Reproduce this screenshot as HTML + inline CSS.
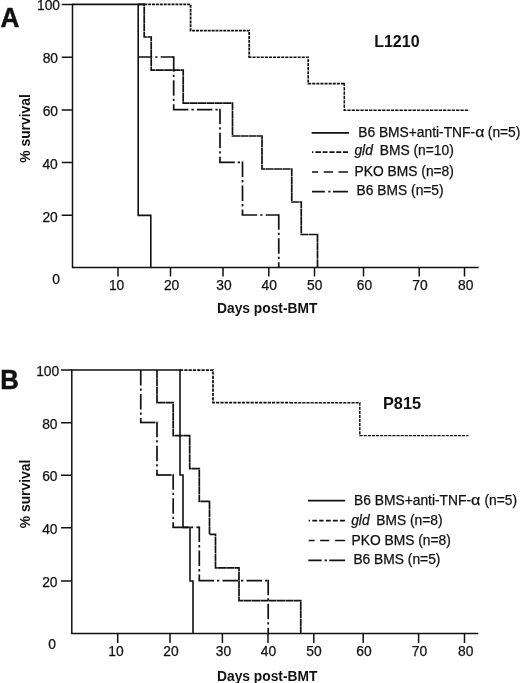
<!DOCTYPE html>
<html>
<head>
<meta charset="utf-8">
<title>Survival curves</title>
<style>
html,body{margin:0;padding:0;background:#fff;}
body{width:520px;height:683px;overflow:hidden;font-family:"Liberation Sans",sans-serif;}
svg{display:block;filter:grayscale(1);}
text{font-family:"Liberation Sans",sans-serif;fill:#111;}
.t{font-size:13.8px;stroke:#111;stroke-width:0.25px;}
.b{font-size:13.8px;font-weight:bold;}
.ttl{font-size:16px;font-weight:bold;}
.pl{font-size:26.5px;font-weight:bold;}
.ax{stroke:#111;stroke-width:1.5;fill:none;}
.lg{stroke:#111;stroke-width:1.55;fill:none;}
.sol{stroke:#111;stroke-width:1.6;fill:none;}
.dot{stroke:#111;stroke-width:1.8;fill:none;stroke-dasharray:3 0.9;}
.dotb{stroke:#111;stroke-width:1.65;fill:none;stroke-dasharray:3.2 1.1;}
.pko{stroke:#111;stroke-width:1.7;fill:none;stroke-dasharray:8 0.35;}
.dd{stroke:#111;stroke-width:1.7;fill:none;stroke-dasharray:15.5 3 2.3 3.2;}
</style>
</head>
<body>
<svg width="520" height="683" viewBox="0 0 520 683">
<rect width="520" height="683" fill="#fff"/>

<!-- ================= PANEL A ================= -->
<g id="A">
<text class="pl" style="font-size:27.6px;stroke:#111;stroke-width:0.5px" transform="translate(0.5,27.2) scale(0.95,1)">A</text>
<!-- axes -->
<path class="ax" d="M72.5,3.7 V267.4 H478.6"/>
<path class="ax" d="M61.7,4.4H72.4 M61.7,57.2H72.4 M61.7,109.9H72.4 M61.7,162.6H72.4 M61.7,215.2H72.4"/>
<path class="ax" d="M118,267.2V276.4 M170.5,267.2V276.4 M223,267.2V276.4 M268.8,267.2V276.4 M314.5,267.2V276.4 M363.5,267.2V276.4 M419.2,267.2V276.4 M464.5,267.2V276.4"/>
<!-- y labels -->
<g class="t" text-anchor="end">
<text x="60" y="9.9">100</text>
<text x="58" y="62.8">80</text>
<text x="58" y="116.2">60</text>
<text x="57.8" y="168.7">40</text>
<text x="57.8" y="221.6">20</text>
<text x="60" y="283.5">0</text>
</g>
<!-- x labels -->
<g class="t" text-anchor="middle">
<text x="116.6" y="290">10</text>
<text x="171.6" y="290">20</text>
<text x="224" y="290">30</text>
<text x="269.2" y="290">40</text>
<text x="314.8" y="290">50</text>
<text x="364.5" y="290">60</text>
<text x="420" y="290">70</text>
<text x="465.7" y="290">80</text>
</g>
<text class="b" x="217" y="313.4">Days post-BMT</text>
<text class="b" style="font-size:13.9px" transform="translate(30.4,162.8) rotate(-90)">% survival</text>
<text class="ttl" x="374.2" y="47.2">L1210</text>
<!-- curves -->
<path class="sol" d="M72.4,4.4 H144.2 M138.2,4.4 V215.4 H150.8 V267.4"/>
<path class="pko" d="M138.2,4.3H144.2V37H151.2V70.2H183.2V103.1H232.5V136H262V169H291.75V202H301.25V234.5H317.5V267.2"/>
<path class="dd" stroke-dashoffset="1.5" d="M138.20,57H173.7"/>
<path class="dd" d="M173.7,56.20V109.6"/>
<path class="dd" d="M172.90,109.6H220"/>
<path class="dd" d="M220,108.80V162.4"/>
<path class="dd" d="M219.20,162.4H242.5"/>
<path class="dd" d="M242.5,161.60V215"/>
<path class="dd" d="M241.70,215H278.75"/>
<path class="dd" d="M278.75,214.20V267.2"/>
<path class="dot" d="M144.2,4.4H190.6V30.6H249.2V57.2"/>
<path class="dot" style="stroke-width:1.65;stroke-dasharray:3.1 1" d="M248.4,57.2H308.2V83.6H344.3"/>
<path class="dot" style="stroke-width:1.55;stroke-dasharray:3.3 1.05" d="M344.3,82.8V110.2H468"/>
<!-- legend -->
<path class="lg" style="stroke-width:1.75" d="M311.6,132.8H349"/>
<path class="lg" d="M312,152.1H313.3 M315.4,152.1H320.9 M322.6,152.1H327.5 M329.4,152.1H334.5 M336.3,152.1H341.3 M342.9,152.1H347.9"/>
<path class="lg" d="M312,171.9H318 M323.7,171.9H333 M338.5,171.9H347.9"/>
<path class="lg" style="stroke-width:1.75" d="M312,191.6H324.8 M328.3,191.6H330.5 M333,191.6H347.9"/>
<g class="t">
<text x="358.2" y="136.8">B6 BMS+anti-TNF-</text>
<text x="475.2" y="136.8" style="font-size:14.5px" textLength="9.2" lengthAdjust="spacingAndGlyphs">α</text>
<text x="487.8" y="136.8">(n=5)</text>
<text x="354.4" y="155.4" font-style="italic">gld</text>
<text x="379.8" y="155.4">BMS (n=10)</text>
<text x="354.6" y="175.8">PKO BMS (n=8)</text>
<text x="356.6" y="195">B6 BMS (n=5)</text>
</g>
</g>

<!-- ================= PANEL B ================= -->
<g id="B">
<text class="pl" style="font-size:27.6px;stroke:#111;stroke-width:0.5px" transform="translate(0.3,389.2) scale(0.93,1)">B</text>
<path class="ax" d="M71.8,369.3 V633.5 H478.3"/>
<path class="ax" d="M61,370H72 M61,422.8H72 M61,475.2H72 M61,527.7H72 M61,581H72"/>
<path class="ax" d="M117.7,633.5V643 M170,633.5V643 M222.4,633.5V643 M268,633.5V643 M313.8,633.5V643 M363.2,633.5V643 M418.6,633.5V643 M464.5,633.5V643"/>
<g class="t" text-anchor="end">
<text x="59.2" y="376">100</text>
<text x="57.5" y="429">80</text>
<text x="57.5" y="481">60</text>
<text x="57.5" y="533.9">40</text>
<text x="57.5" y="587">20</text>
<text x="56" y="648.8">0</text>
</g>
<g class="t" text-anchor="middle">
<text x="116" y="655.7">10</text>
<text x="171" y="655.7">20</text>
<text x="223.4" y="655.7">30</text>
<text x="268.5" y="655.7">40</text>
<text x="314" y="655.7">50</text>
<text x="364" y="655.7">60</text>
<text x="419.5" y="655.7">70</text>
<text x="465.7" y="655.7">80</text>
</g>
<text class="b" x="217" y="680.6">Days post-BMT</text>
<text class="b" style="font-size:13.9px" transform="translate(30.4,528.3) rotate(-90)">% survival</text>
<text class="ttl" style="font-size:16.3px" x="383" y="409.4">P815</text>
<!-- curves -->
<path class="sol" d="M72,370H180V475H183V527.4H190V581H193V633.5"/>
<path class="dotb" style="stroke-width:1.75" d="M180,370H213V402.7H290"/>
<path class="dotb" style="stroke-width:1.45;stroke-dasharray:3.1 1" d="M290,402.7H359.8V435.6H468.5"/>
<path class="dd" d="M140.75,370.00V422.5"/>
<path class="dd" d="M139.95,422.5H157"/>
<path class="dd" d="M157,421.70V475"/>
<path class="dd" d="M156.20,475H173.2"/>
<path class="dd" d="M173.2,474.20V527.4"/>
<path class="dd" d="M172.40,527.4H199.3"/>
<path class="dd" d="M199.3,526.60V580.6"/>
<path class="dd" d="M198.50,580.6H268.2"/>
<path class="dd" d="M268.2,579.80V633.5"/>
<path class="pko" d="M157,370V402.7H173.2V435.6H189.7V468.6H199.3V501.3H209.5V534.4H215.5V567.9H239V600.7H300.75V633.5"/>
<!-- legend -->
<path class="lg" style="stroke-width:1.7" d="M308,500.7H345.2"/>
<path class="lg" d="M308.7,520.6H310 M312.3,520.6H317.2 M319.2,520.6H323.6 M325.9,520.6H330.8 M332.9,520.6H337.8 M339.9,520.6H344.9"/>
<path class="lg" d="M308.7,540.5H314.6 M320.1,540.5H329.3 M335.1,540.5H345.1"/>
<path class="lg" style="stroke-width:1.7" d="M308.3,560.4H321.7 M324.6,560.4H326.9 M329.3,560.4H345.1"/>
<g class="t">
<text x="354.1" y="505.2">B6 BMS+anti-TNF-</text>
<text x="471" y="505.2" style="font-size:14.5px" textLength="9.4" lengthAdjust="spacingAndGlyphs">α</text>
<text x="484.5" y="505.2">(n=5)</text>
<text x="351.2" y="524.6" font-style="italic">gld</text>
<text x="376.3" y="524.6">BMS (n=8)</text>
<text x="351.5" y="544.5">PKO BMS (n=8)</text>
<text x="353.4" y="564.2">B6 BMS (n=5)</text>
</g>
</g>
</svg>
</body>
</html>
